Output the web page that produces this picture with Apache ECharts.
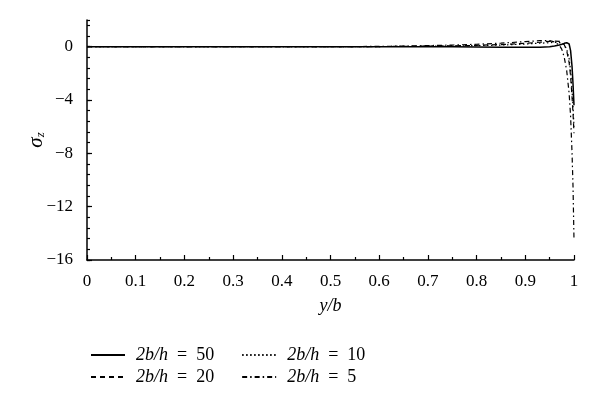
<!DOCTYPE html>
<html>
<head>
<meta charset="utf-8">
<script src="https://cdn.jsdelivr.net/npm/echarts@6/dist/echarts.min.js"></script>
<style>
html,body{margin:0;padding:0;background:#fff;}
#chart{width:600px;height:410px;}
</style>
</head>
<body>
<div id="chart"></div>
<script>
// y/b positions
var yb = [0, 0.1, 0.2, 0.3, 0.4, 0.5, 0.6, 0.65, 0.7, 0.75, 0.8, 0.85, 0.9, 0.93, 0.95, 0.96, 0.97, 0.975, 0.98, 0.985, 0.99, 0.993, 0.996, 0.998, 1.0];
var sz50 = [0, 0, 0, 0, 0, 0, 0, 0, 0, 0, -0.02, -0.04, -0.05, -0.04, 0.0, 0.05, 0.12, 0.18, 0.25, 0.3, 0.2, -0.3, -1.5, -2.8, -4.4];
var sz20 = [0, 0, 0, 0, 0, 0, 0.01, 0.02, 0.04, 0.06, 0.1, 0.16, 0.25, 0.33, 0.4, 0.42, 0.4, 0.32, 0.15, -0.3, -1.2, -2.2, -3.8, -5.0, -6.5];
var sz10 = [0, 0, 0, 0, 0, 0, 0.01, 0.02, 0.03, 0.05, 0.08, 0.12, 0.2, 0.26, 0.3, 0.32, 0.3, 0.25, 0.15, -0.2, -0.9, -1.8, -3.3, -4.5, -6.0];
var sz5 = [0, 0, 0, 0, 0, 0, 0.02, 0.04, 0.08, 0.12, 0.18, 0.26, 0.38, 0.45, 0.45, 0.35, 0.1, -0.2, -0.8, -1.8, -3.5, -5.2, -8.0, -10.5, -14.5];
var names = ['50', '20', '10', '5'];
var yTicks = [-16, -12, -8, -4, 0];
var xTicks = [0, 0.1, 0.2, 0.3, 0.4, 0.5, 0.6, 0.7, 0.8, 0.9, 1];

function pairs(arr) { return yb.map(function (x, i) { return [x, arr[i]]; }); }

var FONT = '"Liberation Serif", "DejaVu Serif", serif';
var chart = echarts.init(document.getElementById('chart'), null, { renderer: 'canvas' });

function mk(name, data, type, width) {
  return {
    name: name, type: 'line', data: pairs(data), symbol: 'none', smooth: false,
    lineStyle: { color: '#000', width: width, type: type },
    itemStyle: { color: '#000' },
    animation: false
  };
}
var dashDot = [5, 3, 1.5, 3];

function legendCfg(data, top) {
  return {
    data: data, left: 85, top: top,
    itemWidth: 34, itemHeight: 12,
    orient: 'horizontal', itemGap: 27,
    itemStyle: { opacity: 0 },
    textStyle: {
      fontFamily: FONT, fontSize: 18, color: '#000',
      rich: { i: { fontFamily: FONT, fontStyle: 'italic', fontSize: 18, color: '#000', padding: [0, 0, 0, 6] } }
    },
    formatter: function (n) { return '{i|2b/h}\u2002=\u2002' + n; }
  };
}

var option = {
  backgroundColor: '#fff',
  animation: false,
  grid: { left: 87, right: 26, top: 20, bottom: 150 },
  legend: [legendCfg(['50', '10'], 341), legendCfg(['20', '5'], 363)],
  xAxis: {
    type: 'value', min: 0, max: 1, interval: 0.1,
    name: 'y/b', nameLocation: 'middle', nameGap: 37,
    nameTextStyle: { fontFamily: FONT, fontStyle: 'italic', fontSize: 18, color: '#000' },
    axisLine: { show: true, onZero: false, lineStyle: { color: '#000', width: 1.5 } },
    axisTick: { show: true, inside: true, length: 5, lineStyle: { color: '#000', width: 1.2 } },
    minorTick: { show: true, splitNumber: 2, length: 3, lineStyle: { color: '#000', width: 1.2 } },
    splitLine: { show: false },
    axisLabel: {
      fontFamily: FONT, fontSize: 17, color: '#000', margin: 13,
      formatter: function (v) {
        var r = Math.round(v * 10) / 10;
        return xTicks.indexOf(r) >= 0 ? String(r) : '';
      }
    }
  },
  yAxis: [{
    type: 'value', min: -16, max: 2, interval: 4,
    name: '{s|σ}{z|z}', nameLocation: 'middle', nameGap: 40, nameRotate: 90,
    nameMoveOverlap: false,
    nameTextStyle: {
      fontFamily: FONT, fontSize: 20, color: '#000',
      rich: {
        s: { fontFamily: FONT, fontStyle: 'italic', fontSize: 21, color: '#000' },
        z: { fontFamily: FONT, fontStyle: 'italic', fontSize: 13, color: '#000', verticalAlign: 'bottom', padding: [8, 0, 0, 0] }
      }
    },
    axisLine: { show: true, lineStyle: { color: '#000', width: 1.5 } },
    axisTick: { show: true, inside: true, length: 5, customValues: yTicks, lineStyle: { color: '#000', width: 1.2 } },
    splitLine: { show: false },
    axisLabel: {
      fontFamily: FONT, fontSize: 17, color: '#000', margin: 14, customValues: yTicks,
      formatter: function (v) { return v < 0 ? '\u2212' + Math.abs(v) : String(v); }
    }
  }, {
    type: 'value', min: -16, max: 2, interval: 0.8, position: 'left',
    axisLine: { show: false },
    axisTick: { show: true, inside: true, length: 3, lineStyle: { color: '#000', width: 1.2 } },
    axisLabel: { show: false },
    splitLine: { show: false }
  }],
  series: [
    mk('50', sz50, 'solid', 1.5),
    mk('20', sz20, [5, 4], 1.2),
    mk('10', sz10, [1.5, 2.5], 1.2),
    mk('5', sz5, dashDot, 1.2)
  ]
};
chart.setOption(option);
</script>
</body>
</html>
